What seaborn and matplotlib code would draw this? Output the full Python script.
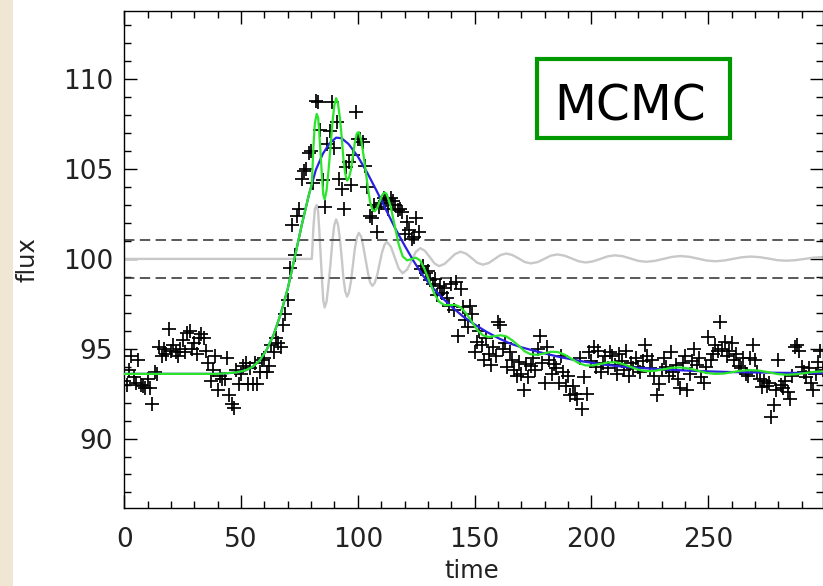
import numpy as np
import matplotlib
matplotlib.use("Agg")
import matplotlib.pyplot as plt
import seaborn as sns
from matplotlib.patches import Rectangle
from matplotlib.ticker import MultipleLocator

# Observed light curve, one sample per time unit
obs_flux = [
    93.2, 93.0, 93.8, 94.6, 93.4, 93.1, 94.4, 93.0, 92.9, 92.8,
    93.3, 92.8, 91.9, 93.7, 93.6, 95.1, 94.6, 95.0, 94.7, 96.1,
    94.9, 95.2, 94.8, 94.6, 95.0, 95.5, 94.8, 95.9, 96.0, 95.0,
    95.3, 94.7, 95.6, 95.8, 95.6, 94.9, 94.2, 93.2, 93.8, 94.6,
    92.7, 93.5, 93.3, 93.3, 94.5, 92.4, 91.9, 91.7, 93.8, 93.05,
    93.6, 94.05, 94.2, 93.05, 93.9, 93.05, 94.2, 93.05, 93.7, 94.35,
    94.5, 93.7, 94.05, 95.2, 94.8, 95.6, 95.3, 95.1, 96.3, 96.95,
    97.7, 99.5, 101.9, 100.2, 102.4, 102.8, 104.45, 104.9, 105.0, 105.9,
    106.0, 104.2, 108.8, 108.75, 107.2, 104.4, 102.9, 106.4, 107.1, 108.75,
    106.15, 107.6, 104.45, 103.9, 102.8, 105.1, 105.4, 104.1, 105.8, 108.2,
    106.7, 106.7, 106.5, 105.2, 104.0, 102.4, 102.25, 103.0, 101.5, 102.9,
    103.1, 103.4, 103.3, 102.8, 103.4, 103.2, 103.0, 102.7, 102.8, 102.6,
    101.4, 102.05, 101.6, 101.1, 101.2, 102.25, 101.5, 99.45, 99.6, 99.2,
    99.3, 98.8, 98.6, 98.9, 97.97, 98.5, 98.1, 98.4, 97.8, 97.4,
    98.6, 97.13, 98.7, 95.7, 98.3, 97.3, 96.6, 96.2, 97.4, 96.95,
    94.8, 95.4, 96.0, 95.2, 94.4, 95.6, 94.7, 94.1, 95.1, 94.6,
    96.5, 96.3, 95.0, 95.3, 94.0, 94.8, 94.4, 93.8, 93.5, 94.25,
    93.6, 92.7, 94.15, 93.4, 94.05, 94.5, 93.8, 95.0, 95.7, 94.2,
    93.1, 95.1, 94.4, 93.6, 94.15, 93.9, 93.1, 94.6, 93.7, 92.9,
    93.5, 92.4, 92.95, 92.5, 92.2, 94.5, 91.65, 93.4, 92.5, 94.8,
    94.3, 95.1, 94.0, 94.9, 93.7, 94.2, 94.6, 93.9, 94.8, 94.6,
    94.1, 93.6, 94.7, 94.3, 93.8, 94.9, 93.5, 94.2, 93.9, 94.5,
    94.0, 93.7, 94.3, 95.2, 94.6, 93.9, 94.4, 93.5, 92.4, 93.05,
    93.8, 94.5, 94.0, 93.5, 94.8, 93.7, 94.1, 93.3, 92.8, 94.2,
    94.6, 92.7, 93.6, 94.3, 95.0, 94.1, 94.5, 93.4, 93.1, 94.0,
    95.65, 94.4, 94.7, 95.2, 94.9, 96.5, 95.0, 95.4, 94.6, 94.9,
    95.3, 94.35, 94.7, 94.05, 93.9, 94.5, 93.6, 93.5, 94.5, 95.2,
    94.4, 93.7, 93.3, 92.85, 93.2, 92.9, 93.1, 91.2, 91.85, 92.7,
    94.35, 93.0, 92.8, 93.2, 92.6, 92.2, 93.5, 95.1, 95.2, 94.9,
    94.0, 93.7, 93.4, 93.9, 93.1, 92.7, 93.6, 94.25, 94.9, 93.8,
]
obs_time = np.arange(len(obs_flux))

# Smooth flare model
model_t = [0, 40, 48, 52, 55, 58, 61, 64, 67, 70, 73, 76, 79, 82, 85, 88,
           90.7, 93, 96, 100, 104, 108, 112, 116, 120, 124, 128, 132, 136,
           140, 145, 150, 155, 160, 165, 170, 178, 186, 195, 205, 215, 230,
           245, 260, 280, 299]
model_flux = [93.60, 93.60, 93.68, 93.80, 94.00, 94.35, 94.95, 95.80, 96.95,
              98.35, 100.10, 101.90, 103.55, 104.95, 105.85, 106.45, 106.75,
              106.72, 106.40, 105.70, 104.80, 103.80, 102.75, 101.70, 100.75,
              99.85, 99.05, 98.40, 97.85, 97.35, 96.80, 96.35, 95.95, 95.60,
              95.30, 95.08, 94.80, 94.55, 94.32, 94.12, 93.98, 93.85, 93.76,
              93.70, 93.66, 93.64]

# Damped oscillation component (offset to 100)
osc_t = [0, 80.3, 81.0, 81.6, 82.4,
         83.0, 83.5, 84.1, 84.7, 85.2, 85.8,
         86.6, 87.4, 88.3, 89.1, 89.9, 90.7,
         91.5, 92.3, 93.1, 93.8, 94.6, 95.4,
         96.2, 97.1, 97.9, 98.7, 99.6, 100.4,
         101.4, 102.3, 103.3, 104.3, 105.2, 106.2,
         107.2, 108.3, 109.3, 110.3, 111.4, 112.4,
         114.1, 115.8, 117.5, 119.2,
         121.1, 123.0, 124.8, 126.7,
         128.7, 130.8, 132.8, 134.8,
         137.1, 139.4, 141.7, 144.0,
         146.4, 148.8, 151.1, 153.5,
         156.0, 158.5, 161.0, 163.5,
         166.1, 168.8, 171.4, 174.0,
         176.9, 179.8, 182.6, 185.5,
         188.5, 191.5, 194.5, 197.5,
         200.6, 203.8, 206.9, 210.0,
         213.4, 216.8, 220.1, 223.5,
         227.1, 230.8, 234.4, 238.0,
         241.8, 245.5, 249.3, 253.0,
         256.8, 260.5, 264.3, 268.0,
         271.9, 275.8, 279.6, 283.5,
         287.4, 291.3, 295.1, 299.0]
osc_flux = [100.0, 100.0, 101.8, 102.8, 103.0,
            102.62, 101.58, 100.15, 98.73, 97.68, 97.3,
            97.63, 98.53, 99.75, 100.98, 101.87, 102.2,
            101.91, 101.13, 100.05, 98.97, 98.19, 97.9,
            98.14, 98.79, 99.68, 100.56, 101.21, 101.45,
            101.25, 100.71, 99.98, 99.24, 98.70, 98.5,
            98.66, 99.11, 99.73, 100.34, 100.79, 100.95,
            100.69, 100.08, 99.46, 99.2,
            99.41, 99.9, 100.39, 100.6,
            100.45, 100.1, 99.75, 99.6,
            99.72, 100.0, 100.28, 100.4,
            100.29, 100.04, 99.79, 99.68,
            99.77, 99.99, 100.21, 100.3,
            100.22, 100.03, 99.83, 99.75,
            99.82, 100.0, 100.18, 100.25,
            100.18, 100.03, 99.87, 99.8,
            99.86, 100.0, 100.14, 100.2,
            100.15, 100.02, 99.89, 99.84,
            99.89, 100.0, 100.11, 100.16,
            100.12, 100.02, 99.91, 99.87,
            99.91, 100.0, 100.09, 100.13,
            100.10, 100.02, 99.93, 99.9,
            99.93, 100.0, 100.07, 100.1]

# MCMC fit: flare plus oscillation
fit_t = [0, 40, 48, 52, 55, 58, 61, 64, 67, 70, 73, 76, 79] + osc_t[1:]
fit_flux = [93.60, 93.60, 93.68, 93.80, 94.00, 94.35, 94.95, 95.80, 96.95,
            98.35, 100.10, 101.90, 103.55,
            104.16, 106.28, 107.56, 108.07,
            107.86, 106.99, 105.73, 104.48, 103.58, 103.31,
            103.80, 104.87, 106.23, 107.55, 108.53, 108.95,
            108.65, 107.86, 106.77, 105.60, 104.74, 104.36,
            104.50, 105.00, 105.75, 106.48, 106.99, 107.06,
            106.64, 105.89, 104.94, 103.97, 103.19, 102.75,
            102.65, 102.84, 103.19, 103.53, 103.71, 103.60,
            102.89, 101.83, 100.80, 100.14,
            99.92, 99.99, 100.07, 99.91,
            99.38, 98.70, 98.04, 97.61,
            97.43, 97.43, 97.44, 97.31,
            96.96, 96.50, 96.05, 95.75,
            95.65, 95.70, 95.75, 95.69,
            95.47, 95.17, 94.86, 94.69,
            94.66, 94.74, 94.83, 94.82,
            94.67, 94.44, 94.20, 94.07,
            94.07, 94.15, 94.23, 94.25,
            94.15, 93.99, 93.83, 93.75,
            93.77, 93.85, 93.94, 93.96,
            93.90, 93.78, 93.65, 93.60,
            93.62, 93.70, 93.78, 93.81,
            93.78, 93.69, 93.59, 93.55,
            93.58, 93.64, 93.71, 93.74]

# Noise band around the oscillation baseline
band_levels = [101.05, 98.95]

x_ticks = [0, 50, 100, 150, 200, 250]
y_ticks = [90, 95, 100, 105, 110]

sns.set_style("ticks")
plt.rcParams["font.family"] = ["DejaVu Sans"]

fig = plt.figure(figsize=(8.23, 5.86), dpi=100)
fig.patch.set_facecolor("white")
fig.patches.append(Rectangle((0, 0), 0.0152, 1, transform=fig.transFigure,
                             facecolor="#EFE7D3", edgecolor="none", zorder=0))

ax = fig.add_axes([0.1510, 0.1336, 0.8486, 0.8476])
ax.set_facecolor("white")

sns.lineplot(x=osc_t, y=osc_flux, ax=ax, color="#C8C8C8", lw=1.7,
             estimator=None, sort=False, zorder=2)
for lvl in band_levels:
    ax.axhline(lvl, color="#333333", lw=1.15, ls=(0, (6.5, 3.4)), zorder=2)

sns.scatterplot(x=obs_time, y=obs_flux, ax=ax, marker="+", s=95,
                color="black", linewidth=1.25, zorder=3)

sns.lineplot(x=model_t, y=model_flux, ax=ax, color="#2A22E0", lw=1.6,
             estimator=None, sort=False, zorder=4)
sns.lineplot(x=fit_t, y=fit_flux, ax=ax, color="#2BE52B", lw=1.6,
             estimator=None, sort=False, zorder=5)

ax.set_xlim(0, 299)
ax.set_ylim(86.15, 113.8)
ax.set_xticks(x_ticks)
ax.set_yticks(y_ticks)
ax.xaxis.set_minor_locator(MultipleLocator(10))
ax.yaxis.set_minor_locator(MultipleLocator(1))

ax.tick_params(which="both", direction="in", top=True, right=True,
               color="black", width=1.0)
ax.tick_params(which="major", length=9.5)
ax.tick_params(which="minor", length=5)
ax.tick_params(axis="x", labelsize=19, labelcolor="#222222", pad=14)
ax.tick_params(axis="y", labelsize=19, labelcolor="#222222", pad=8)
for sp in ax.spines.values():
    sp.set_visible(True)
    sp.set_linewidth(1.0)
    sp.set_color("black")

ax.set_xlabel("time", fontsize=17.5, color="#222222", va="center")
ax.set_ylabel("flux", fontsize=17.5, color="#222222", va="center")
ax.xaxis.set_label_coords(0.497, -0.128)
ax.yaxis.set_label_coords(-0.139, 0.5)

# Method label in a green frame
ax.add_patch(Rectangle((0.591, 0.744), 0.276, 0.159, transform=ax.transAxes,
                       fill=False, edgecolor="#009900", lw=3.0, zorder=6))
ax.text(0.725, 0.779, "MCMC", transform=ax.transAxes, fontsize=35,
        ha="center", va="baseline", color="black", zorder=7)

fig.savefig("out.png", dpi=100)
